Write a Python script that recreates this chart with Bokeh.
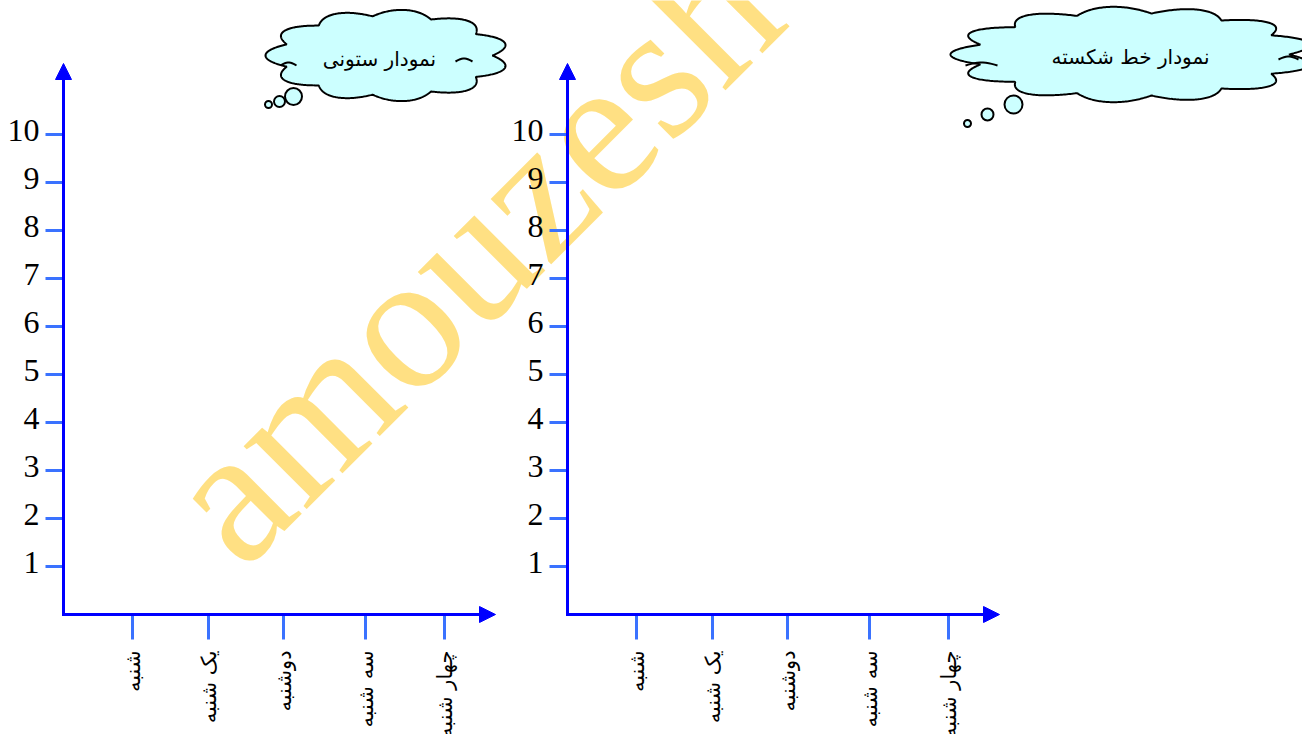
import numpy as np
from bokeh.plotting import figure
from bokeh.models import Range1d, Arrow, NormalHead
from bokeh.core.properties import value
from bokeh.embed import file_html
from bokeh.resources import INLINE

# ---- data ----
days = ["شنبه", "یک شنبه", "دوشنبه", "سه شنبه", "چهار شنبه"]
y_ticks = [1, 2, 3, 4, 5, 6, 7, 8, 9, 10]
chart_titles = ["نمودار ستونی", "نمودار خط شکسته"]
watermark_text = "amouzesh"

# ---- layout (screen pixels) ----
W, H = 1302, 734
ORIGIN_Y = 614          # screen y of value 0
UNIT = 48               # pixels per unit on the value axis
chart_origin_x = [63, 567]
day_offsets = [69, 145, 220, 302, 381]
x_axis_len = 432
y_axis_tip = 63


def Y(sy):
    return (ORIGIN_Y - np.asarray(sy, dtype=float)) / UNIT


p = figure(width=W, height=H,
           x_range=Range1d(0, W),
           y_range=Range1d(float(Y(H)), float(Y(0))),
           x_axis_type=None, y_axis_type=None,
           toolbar_location=None, output_backend="svg",
           min_border=0, outline_line_color=None,
           background_fill_color="white", border_fill_color="white")

# watermark
p.text(x=[196], y=[float(Y(526))], text=[watermark_text], angle=np.deg2rad(45),
       text_font=value("Liberation Serif"), text_font_size="194px",
       text_color="#FFE083", text_align="left", text_baseline="alphabetic")

BLUE = "#0000FF"
TICK = "#3a72ff"

for ox in chart_origin_x:
    # y ticks
    p.segment(x0=[ox - 18] * len(y_ticks), y0=y_ticks,
              x1=[ox - 1] * len(y_ticks), y1=y_ticks,
              line_color=TICK, line_width=3)
    p.text(x=[ox - 24] * len(y_ticks), y=[v + 4 / UNIT for v in y_ticks],
           text=[str(v) for v in y_ticks],
           text_font=value("Liberation Serif"), text_font_size="32px",
           text_color="black", text_align="right", text_baseline="alphabetic")
    # x ticks
    xs = [ox + d for d in day_offsets]
    p.segment(x0=xs, y0=[0] * len(xs), x1=xs, y1=[float(Y(639))] * len(xs),
              line_color=TICK, line_width=3)
    p.text(x=xs, y=[float(Y(650))] * len(xs), text=days, angle=np.pi / 2,
           text_font=value("DejaVu Sans"), text_font_size="21px",
           text_color="black", text_align="right", text_baseline="middle")
    # axes with arrow heads
    p.add_layout(Arrow(end=NormalHead(size=16, fill_color=BLUE, line_color=BLUE),
                       x_start=ox, y_start=0, x_end=ox, y_end=float(Y(y_axis_tip)),
                       line_color=BLUE, line_width=3))
    p.add_layout(Arrow(end=NormalHead(size=16, fill_color=BLUE, line_color=BLUE),
                       x_start=ox - 1.5, y_start=0, x_end=ox + x_axis_len, y_end=0,
                       line_color=BLUE, line_width=3))

# thought clouds
clouds = [
    dict(cx=387, cy=55, rx=122, ry=46, n=11, tx=379, ty=58,
         bubbles=[(293, 96, 17), (279, 101, 11), (268, 104, 7)],
         curls=[(280, 296, 65), (455, 472, 61)]),
    dict(cx=1132, cy=54, rx=182, ry=48, n=13, tx=1130, ty=56,
         bubbles=[(1013, 104, 18), (987, 114, 12), (967, 123, 7)],
         curls=[(965, 997, 65), (1278, 1298, 59)]),
]
t = np.linspace(0, 2 * np.pi, 800)
for c, title in zip(clouds, chart_titles):
    k = 0.86 + 0.14 * np.abs(np.sin(c["n"] * t / 2))
    cx_ = c["cx"] + c["rx"] * k * np.cos(t)
    cy_ = c["cy"] + c["ry"] * k * np.sin(t)
    p.patch(cx_.tolist(), Y(cy_).tolist(), fill_color="#CCFFFF",
            line_color="black", line_width=2)
    for (x0, x1, yc) in c["curls"]:
        u = np.linspace(0, 1, 12)
        p.line((x0 + (x1 - x0) * u).tolist(),
               Y(yc - 3 * np.sin(np.pi * u)).tolist(),
               line_color="black", line_width=2)
    bx = [b[0] for b in c["bubbles"]]
    by = Y([b[1] for b in c["bubbles"]]).tolist()
    bs = [b[2] for b in c["bubbles"]]
    p.scatter(bx, by, size=bs, marker="circle", fill_color="#CCFFFF",
              line_color="black", line_width=2)
    p.text(x=[c["tx"]], y=[float(Y(c["ty"]))], text=[title],
           text_font=value("DejaVu Sans"), text_font_size="20px",
           text_color="black", text_align="center", text_baseline="middle")

open("out.html", "w").write(file_html(p, INLINE))
